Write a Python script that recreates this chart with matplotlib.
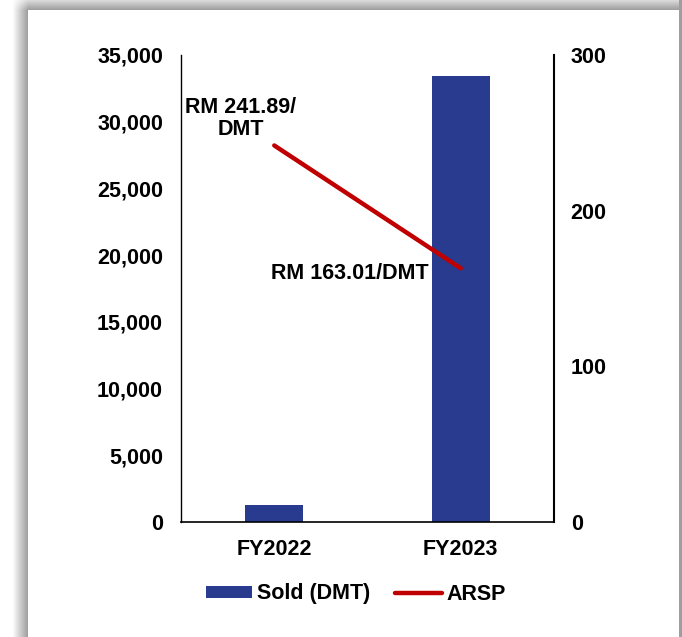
import numpy as np
import matplotlib.pyplot as plt

plt.rcParams['font.family'] = ['Liberation Sans', 'DejaVu Sans']
plt.rcParams['font.weight'] = 'bold'

# data
years = ['FY2022', 'FY2023']
sold_dmt = [1300, 33400]
arsp = [241.89, 163.01]
arsp_labels = ['RM 241.89/\nDMT', 'RM 163.01/DMT']

barColor = '#293B8F'
lineColor = '#C00000'
fs = 15.5

W, H = 682, 637
fig = plt.figure(figsize=(W / 100, H / 100), dpi=100)
fig.patch.set_facecolor('white')

# grey shadow along the top, left and right edges of the white panel
xs = np.arange(W)[None, :].astype(float)
ys = np.arange(H)[:, None].astype(float)
dLeft = np.clip((xs - 12) / 16, 0, 1) * 0.40
dTop = 0.15 + 0.25 * np.clip(ys / 10, 0, 1)
dark = np.zeros((H, W))
dark = np.where((ys >= 10) & (xs < 28), dLeft, dark)
dark = np.where((ys < 10) & (xs >= 28), dTop, dark)
dark = np.where((ys < 10) & (xs < 28), dTop * dLeft / 0.40, dark)
dark = np.where(xs >= 679, 0.38 + 0 * ys, dark)
fig.figimage(1 - dark, xo=0, yo=0, origin='upper', cmap='gray', vmin=0, vmax=1, zorder=-10)

ax = fig.add_axes([181 / W, 1 - 522 / H, (554 - 181) / W, (522 - 55) / H])
ax.patch.set_alpha(0)
x = range(len(years))
ax.bar(x, sold_dmt, width=0.31, color=barColor, label='Sold (DMT)', zorder=2)
ax.set_xlim(-0.5, 1.5)
ax.set_ylim(0, 35000)
ax.set_yticks(range(0, 35001, 5000))
ax.set_yticklabels([f'{v:,}' for v in range(0, 35001, 5000)])
ax.set_xticks(list(x))
ax.set_xticklabels(years)
ax.tick_params(axis='both', length=0, labelsize=fs)
ax.tick_params(axis='y', pad=13)
ax.tick_params(axis='x', pad=12)
ax.spines['top'].set_visible(False)
ax.spines['right'].set_visible(False)
ax.spines['left'].set_linewidth(1.0)
ax.spines['bottom'].set_linewidth(1.2)

ax2 = ax.twinx()
ax2.plot(list(x), arsp, color=lineColor, linewidth=3.2, solid_capstyle='round',
         label='ARSP', zorder=3)
ax2.set_ylim(0, 300)
ax2.set_yticks([0, 100, 200, 300])
ax2.tick_params(axis='y', length=0, labelsize=fs, pad=12)
ax2.spines['top'].set_visible(False)
ax2.spines['left'].set_visible(False)
ax2.spines['bottom'].set_visible(False)
ax2.spines['right'].set_linewidth(1.5)

# value labels for the price line
ax2.annotate(arsp_labels[0], (0, arsp[0]), xytext=(-24, 4), textcoords='offset points',
             ha='center', va='bottom', fontsize=fs, fontweight='bold', linespacing=1.05)
ax2.annotate(arsp_labels[1], (1, arsp[1]), xytext=(-23, -4), textcoords='offset points',
             ha='right', va='center', fontsize=fs, fontweight='bold')

h1, l1 = ax.get_legend_handles_labels()
h2, l2 = ax2.get_legend_handles_labels()
fig.legend(h1 + h2, l1 + l2, loc='center', bbox_to_anchor=(356 / W, 1 - 594 / H),
           ncol=2, frameon=False, fontsize=fs, handlelength=2.15, handleheight=0.5,
           handletextpad=0.23, columnspacing=1.15)

fig.savefig('out.png', dpi=100)
